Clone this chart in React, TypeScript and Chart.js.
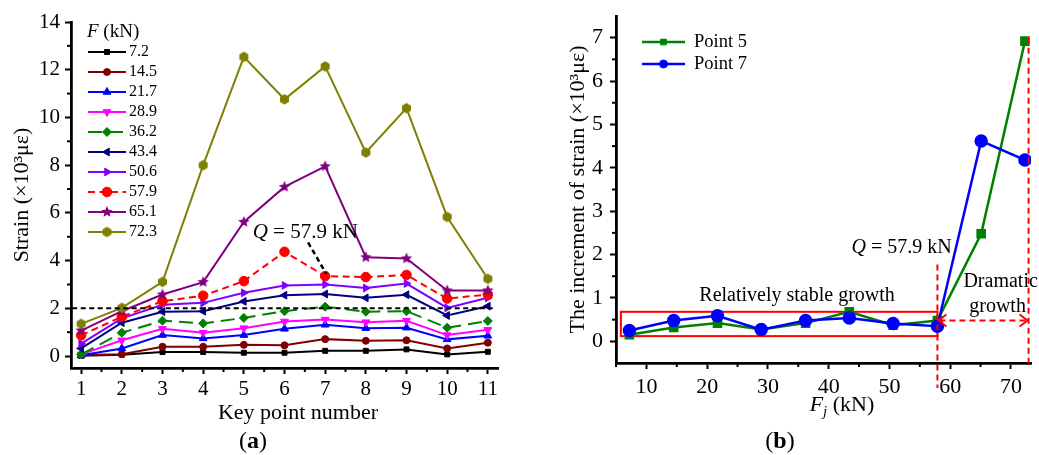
import React, { useEffect, useRef } from 'react';
import { Chart, registerables } from 'chart.js';
import { drawPoint } from 'chart.js/helpers';

Chart.register(...registerables);

const SERIF = '"Liberation Serif", "Times New Roman", serif';

// ---------- (a) strain at key points ----------
const keyPoints = [1, 2, 3, 4, 5, 6, 7, 8, 9, 10, 11];
const forceLabels = ['7.2', '14.5', '21.7', '28.9', '36.2', '43.4', '50.6', '57.9', '65.1', '72.3'];
const strainF7_2 = [0.01, 0.06, 0.17, 0.17, 0.14, 0.14, 0.22, 0.22, 0.28, 0.07, 0.18];
const strainF14_5 = [0.04, 0.08, 0.39, 0.39, 0.47, 0.45, 0.71, 0.64, 0.66, 0.32, 0.56];
const strainF21_7 = [0.03, 0.32, 0.88, 0.74, 0.88, 1.14, 1.31, 1.17, 1.19, 0.7, 0.85];
const strainF28_9 = [0.07, 0.66, 1.14, 0.98, 1.17, 1.45, 1.53, 1.42, 1.48, 0.88, 1.1];
const strainF36_2 = [0.07, 0.98, 1.48, 1.37, 1.6, 1.88, 2.07, 1.86, 1.88, 1.19, 1.47];
const strainF43_4 = [0.32, 1.4, 1.86, 1.88, 2.29, 2.55, 2.6, 2.44, 2.57, 1.7, 2.09];
const strainF50_6 = [0.52, 1.58, 2.15, 2.23, 2.65, 2.96, 3.0, 2.85, 3.04, 2.02, 2.44];
const strainF57_9 = [0.87, 1.65, 2.3, 2.53, 3.14, 4.37, 3.35, 3.31, 3.4, 2.41, 2.58];
const strainF65_1 = [1.07, 1.88, 2.58, 3.1, 5.62, 7.09, 7.95, 4.14, 4.09, 2.75, 2.75];
const strainF72_3 = [1.35, 2.02, 3.11, 8.0, 12.54, 10.76, 12.14, 8.53, 10.39, 5.83, 3.24];
const leftYTicks = [0, 2, 4, 6, 8, 10, 12, 14];
const leftXTicks = [1, 2, 3, 4, 5, 6, 7, 8, 9, 10, 11];
const thresholdStrain = 2.0;

// ---------- (b) increment of strain ----------
const loadsFj = [7.2, 14.5, 21.7, 28.9, 36.2, 43.4, 50.6, 57.9, 65.1, 72.3];
const point5Inc = [0.15, 0.32, 0.42, 0.27, 0.42, 0.68, 0.37, 0.48, 2.48, 6.92];
const point7Inc = [0.25, 0.48, 0.59, 0.27, 0.48, 0.54, 0.41, 0.35, 4.62, 4.18];
const rightYTicks = [0, 1, 2, 3, 4, 5, 6, 7];
const rightXTicks = [10, 20, 30, 40, 50, 60, 70];
const qLoad = 57.9;

// ---------- styles ----------
type Sty = { color: string; point: any; rot: number; r: number; dash: number[] };

function makePoly(color: string, R: number, n: number, inner: number | null) {
  const size = Math.ceil(R * 2 + 2);
  const c = document.createElement('canvas');
  c.width = size;
  c.height = size;
  const g = c.getContext('2d')!;
  g.fillStyle = color;
  g.beginPath();
  const cnt = inner ? n * 2 : n;
  for (let i = 0; i < cnt; i++) {
    const rr = inner ? (i % 2 === 0 ? R : R * inner) : R;
    const a = -Math.PI / 2 + (i * 2 * Math.PI) / cnt;
    const px = size / 2 + rr * Math.cos(a);
    const py = size / 2 + rr * Math.sin(a);
    if (i === 0) g.moveTo(px, py);
    else g.lineTo(px, py);
  }
  g.closePath();
  g.fill();
  return c;
}

function richText(ctx: CanvasRenderingContext2D, parts: any[], x: number, y: number, align: string) {
  let total = 0;
  const widths = parts.map((p) => {
    ctx.font = p.font;
    const w = ctx.measureText(p.text).width;
    total += w;
    return w;
  });
  let cx = align === 'center' ? x - total / 2 : x;
  ctx.textBaseline = 'middle';
  ctx.textAlign = 'left';
  parts.forEach((p, i) => {
    ctx.font = p.font;
    ctx.fillStyle = p.color || '#000';
    ctx.fillText(p.text, cx, y + (p.dy || 0));
    cx += widths[i];
  });
}

function line(ctx: CanvasRenderingContext2D, x1: number, y1: number, x2: number, y2: number) {
  ctx.beginPath();
  ctx.moveTo(x1, y1);
  ctx.lineTo(x2, y2);
  ctx.stroke();
}

function f(size: number, style = '') {
  return `${style} ${size}px ${SERIF}`.trim();
}

function axisCommon(fontSize: number, pad: number) {
  return {
    grid: { display: true, drawOnChartArea: false, drawTicks: true, tickLength: 6, tickWidth: 2, color: '#000', tickColor: '#000' },
    border: { display: true, color: '#000', width: 2.8 },
    ticks: { color: '#000', font: { size: fontSize, family: SERIF }, padding: pad, maxRotation: 0, autoSkip: false, callback: (v: any) => String(v) },
  };
}

const leftPlugin = {
  id: 'leftAnnot',
  afterDraw(chart: any) {
    const { ctx, scales, chartArea } = chart;
    const x = scales.x;
    const y = scales.y;
    ctx.save();
    // minor ticks
    ctx.strokeStyle = '#000';
    ctx.lineWidth = 2;
    for (let i = 0; i < leftYTicks.length - 1; i++) {
      const py = y.getPixelForValue((leftYTicks[i] + leftYTicks[i + 1]) / 2);
      line(ctx, chartArea.left - 4, py, chartArea.left, py);
    }
    for (let i = 0; i < leftXTicks.length - 1; i++) {
      const px = x.getPixelForValue((leftXTicks[i] + leftXTicks[i + 1]) / 2);
      line(ctx, px, chartArea.bottom, px, chartArea.bottom + 4);
    }
    // threshold dashed line
    ctx.setLineDash([5, 3.5]);
    ctx.lineWidth = 2;
    line(ctx, x.getPixelForValue(0.78), y.getPixelForValue(thresholdStrain), x.getPixelForValue(11.12), y.getPixelForValue(thresholdStrain));
    // Q arrow
    ctx.lineWidth = 2.5;
    ctx.setLineDash([5, 3.5]);
    line(ctx, x.getPixelForValue(6.58), y.getPixelForValue(4.76), x.getPixelForValue(7.03), y.getPixelForValue(3.44));
    ctx.setLineDash([]);
    richText(ctx, [
      { text: 'Q', font: f(21, 'italic') },
      { text: ' = 57.9 kN', font: f(21) },
    ], x.getPixelForValue(6.51), y.getPixelForValue(5.18), 'center');
    // legend
    richText(ctx, [
      { text: 'F', font: f(19, 'italic') },
      { text: ' (kN)', font: f(19) },
    ], 87, 32, 'left');
    chart.data.datasets.forEach((ds: any, i: number) => {
      const ly = 52 + i * 20;
      ctx.strokeStyle = ds.borderColor;
      ctx.lineWidth = 2;
      ctx.setLineDash(ds.borderDash || []);
      line(ctx, 88, ly, 126, ly);
      ctx.setLineDash([]);
      ctx.fillStyle = ds.pointBackgroundColor;
      ctx.strokeStyle = ds.pointBorderColor;
      ctx.lineWidth = 1;
      drawPoint(ctx, { pointStyle: ds.pointStyle, rotation: ds.pointRotation, radius: ds.pointRadius, borderWidth: 1 } as any, 107, ly);
      ctx.fillStyle = '#000';
      ctx.font = f(16);
      ctx.textAlign = 'left';
      ctx.textBaseline = 'middle';
      ctx.fillText(ds.label, 129, ly);
    });
    // x title and panel label
    ctx.fillStyle = '#000';
    ctx.font = f(22);
    ctx.textAlign = 'center';
    ctx.textBaseline = 'middle';
    ctx.fillText('Key point number', 298, 413);
    richText(ctx, [
      { text: '(', font: f(24) },
      { text: 'a', font: f(24, 'bold') },
      { text: ')', font: f(24) },
    ], 253, 442, 'center');
    ctx.restore();
  },
};

const rightPlugin = {
  id: 'rightAnnot',
  beforeDatasetsDraw(chart: any) {
    const { ctx, scales } = chart;
    const x = scales.x;
    const y = scales.y;
    ctx.save();
    ctx.strokeStyle = '#FF0000';
    ctx.lineWidth = 2;
    const x1 = x.getPixelForValue(5.8);
    const x2 = x.getPixelForValue(qLoad);
    const y1 = y.getPixelForValue(0.68);
    const y2 = y.getPixelForValue(0.12);
    ctx.strokeRect(x1, y1, x2 - x1, y2 - y1);
    ctx.restore();
  },
  afterDraw(chart: any) {
    const { ctx, scales, chartArea } = chart;
    const x = scales.x;
    const y = scales.y;
    ctx.save();
    ctx.strokeStyle = '#000';
    ctx.lineWidth = 2;
    for (let i = 0; i < rightYTicks.length - 1; i++) {
      const py = y.getPixelForValue((rightYTicks[i] + rightYTicks[i + 1]) / 2);
      line(ctx, chartArea.left - 4, py, chartArea.left, py);
    }
    for (let i = -1; i < rightXTicks.length - 1; i++) {
      const v = i < 0 ? rightXTicks[0] - 5 : (rightXTicks[i] + rightXTicks[i + 1]) / 2;
      const px = x.getPixelForValue(v);
      line(ctx, px, chartArea.bottom, px, chartArea.bottom + 4);
    }
    // red dashed guides
    ctx.strokeStyle = '#FF0000';
    ctx.lineWidth = 2;
    ctx.setLineDash([6, 4]);
    const qx = x.getPixelForValue(qLoad);
    const ex = x.getPixelForValue(72.9);
    line(ctx, qx, y.getPixelForValue(1.77), qx, 388);
    line(ctx, ex, y.getPixelForValue(7.0), ex, y.getPixelForValue(-0.5));
    const ay = y.getPixelForValue(0.48);
    line(ctx, qx + 2, ay, ex - 2, ay);
    ctx.setLineDash([]);
    line(ctx, qx + 9, ay - 6, qx + 1, ay);
    line(ctx, qx + 1, ay, qx + 9, ay + 6);
    line(ctx, ex - 9, ay - 6, ex - 1, ay);
    line(ctx, ex - 1, ay, ex - 9, ay + 6);
    // texts
    ctx.fillStyle = '#000';
    ctx.textAlign = 'center';
    ctx.textBaseline = 'middle';
    ctx.font = f(20);
    ctx.fillText('Relatively stable growth', x.getPixelForValue(34.8), y.getPixelForValue(1.05));
    ctx.fillText('Dramatic', x.getPixelForValue(68.3), y.getPixelForValue(1.38));
    ctx.fillText('growth', x.getPixelForValue(67.8), y.getPixelForValue(0.8));
    richText(ctx, [
      { text: 'Q', font: f(20, 'italic') },
      { text: ' = 57.9 kN', font: f(20) },
    ], x.getPixelForValue(52), y.getPixelForValue(2.16), 'center');
    // legend
    chart.data.datasets.forEach((ds: any, i: number) => {
      const ly = 42 + i * 22;
      ctx.strokeStyle = ds.borderColor;
      ctx.lineWidth = 2.5;
      line(ctx, 122, ly, 165, ly);
      ctx.fillStyle = ds.pointBackgroundColor;
      ctx.strokeStyle = ds.pointBorderColor;
      ctx.lineWidth = 1;
      drawPoint(ctx, { pointStyle: ds.pointStyle, rotation: 0, radius: 4, borderWidth: 1 } as any, 143.5, ly);
      ctx.fillStyle = '#000';
      ctx.font = f(18.5);
      ctx.textAlign = 'left';
      ctx.textBaseline = 'middle';
      ctx.fillText(ds.label, 174, ly);
    });
    // x title
    richText(ctx, [
      { text: 'F', font: f(22, 'italic') },
      { text: 'j', font: f(15, 'italic'), dy: 7 },
      { text: ' (kN)', font: f(22) },
    ], 322, 405, 'center');
    richText(ctx, [
      { text: '(', font: f(24) },
      { text: 'b', font: f(24, 'bold') },
      { text: ')', font: f(24) },
    ], 260, 442, 'center');
    ctx.restore();
  },
};

export default function App() {
  const leftRef = useRef<HTMLCanvasElement>(null);
  const rightRef = useRef<HTMLCanvasElement>(null);

  useEffect(() => {
    const starImg = makePoly('#800080', 6, 5, 0.45);
    const hexImg = makePoly('#808000', 5.2, 6, null);
    const leftStyles: Sty[] = [
      { color: '#000000', point: 'rect', rot: 0, r: 3.5, dash: [] },
      { color: '#800000', point: 'circle', rot: 0, r: 3.5, dash: [] },
      { color: '#0000FF', point: 'triangle', rot: 0, r: 4.5, dash: [] },
      { color: '#FF00FF', point: 'triangle', rot: 180, r: 4.5, dash: [] },
      { color: '#008000', point: 'rectRot', rot: 0, r: 4.5, dash: [14, 7] },
      { color: '#000080', point: 'triangle', rot: 270, r: 4.5, dash: [] },
      { color: '#8000FF', point: 'triangle', rot: 90, r: 4.5, dash: [] },
      { color: '#FF0000', point: 'circle', rot: 0, r: 4.8, dash: [7, 4.5] },
      { color: '#800080', point: starImg, rot: 0, r: 5, dash: [] },
      { color: '#808000', point: hexImg, rot: 0, r: 5, dash: [] },
    ];
    const leftSeries = [strainF7_2, strainF14_5, strainF21_7, strainF28_9, strainF36_2, strainF43_4, strainF50_6, strainF57_9, strainF65_1, strainF72_3];

    const leftChart = new Chart(leftRef.current!, {
      type: 'line',
      data: {
        datasets: leftSeries.map((vals, i) => ({
          label: forceLabels[i],
          data: vals.map((v, j) => ({ x: keyPoints[j], y: v })),
          borderColor: leftStyles[i].color,
          backgroundColor: leftStyles[i].color,
          pointBackgroundColor: leftStyles[i].color,
          pointBorderColor: leftStyles[i].color,
          pointStyle: leftStyles[i].point,
          pointRotation: leftStyles[i].rot,
          pointRadius: leftStyles[i].r,
          pointBorderWidth: 1,
          borderWidth: 2,
          borderDash: leftStyles[i].dash,
          tension: 0,
          order: 10 - i,
        })),
      },
      options: {
        responsive: false,
        animation: false,
        events: [],
        layout: { padding: { top: 22, right: 22, left: 0, bottom: 0 } },
        plugins: { legend: { display: false }, tooltip: { enabled: false } },
        scales: {
          x: {
            type: 'linear',
            min: 0.75,
            max: 11.25,
            ...axisCommon(21, 3),
            afterBuildTicks: (s: any) => { s.ticks = leftXTicks.map((v) => ({ value: v })); },
            afterFit: (s: any) => { s.height = 87; s.paddingLeft = 0; s.paddingRight = 0; },
          } as any,
          y: {
            type: 'linear',
            min: -0.5,
            max: 14,
            ...axisCommon(21, 5),
            title: { display: true, text: 'Strain (×10³με)', color: '#000', font: { size: 22, family: SERIF }, padding: { top: 9, bottom: 0 } },
            afterBuildTicks: (s: any) => { s.ticks = leftYTicks.map((v) => ({ value: v })); },
            afterFit: (s: any) => { s.width = 71; s.paddingTop = 0; s.paddingBottom = 0; },
          } as any,
        },
      },
      plugins: [leftPlugin],
    } as any);

    const rightChart = new Chart(rightRef.current!, {
      type: 'line',
      data: {
        datasets: [
          {
            label: 'Point 5',
            data: point5Inc.map((v, j) => ({ x: loadsFj[j], y: v })),
            borderColor: '#008000',
            backgroundColor: '#008000',
            pointBackgroundColor: '#008000',
            pointBorderColor: '#008000',
            pointStyle: 'rect',
            pointRadius: 5,
            borderWidth: 2.5,
            tension: 0,
            order: 1,
          },
          {
            label: 'Point 7',
            data: point7Inc.map((v, j) => ({ x: loadsFj[j], y: v })),
            borderColor: '#0000FF',
            backgroundColor: '#0000FF',
            pointBackgroundColor: '#0000FF',
            pointBorderColor: '#0000FF',
            pointStyle: 'circle',
            pointRadius: 5.5,
            borderWidth: 2.5,
            tension: 0,
            order: 0,
          },
        ],
      },
      options: {
        responsive: false,
        animation: false,
        events: [],
        layout: { padding: { top: 16, right: 2, left: 0, bottom: 0 } },
        plugins: { legend: { display: false }, tooltip: { enabled: false } },
        scales: {
          x: {
            type: 'linear',
            min: 5,
            max: 73.3,
            ...axisCommon(22, 5),
            afterBuildTicks: (s: any) => { s.ticks = rightXTicks.map((v) => ({ value: v })); },
            afterFit: (s: any) => { s.height = 92; s.paddingLeft = 0; s.paddingRight = 0; },
          } as any,
          y: {
            type: 'linear',
            min: -0.5,
            max: 7.5,
            ...axisCommon(22, 7),
            title: { display: true, text: 'The increment of strain (×10³με)', color: '#000', font: { size: 22, family: SERIF }, padding: { top: 45, bottom: 0 } },
            afterBuildTicks: (s: any) => { s.ticks = rightYTicks.map((v) => ({ value: v })); },
            afterFit: (s: any) => { s.width = 96; s.paddingTop = 0; s.paddingBottom = 0; },
          } as any,
        },
      },
      plugins: [rightPlugin],
    } as any);

    return () => {
      leftChart.destroy();
      rightChart.destroy();
    };
  }, []);

  return (
    <div style={{ position: 'fixed', left: 0, top: 0, width: 1039, height: 455, background: '#fff' }}>
      <canvas ref={leftRef} width={520} height={455} style={{ position: 'absolute', left: 0, top: 0, width: 520, height: 455 }} />
      <canvas ref={rightRef} width={519} height={455} style={{ position: 'absolute', left: 520, top: 0, width: 519, height: 455 }} />
    </div>
  );
}
